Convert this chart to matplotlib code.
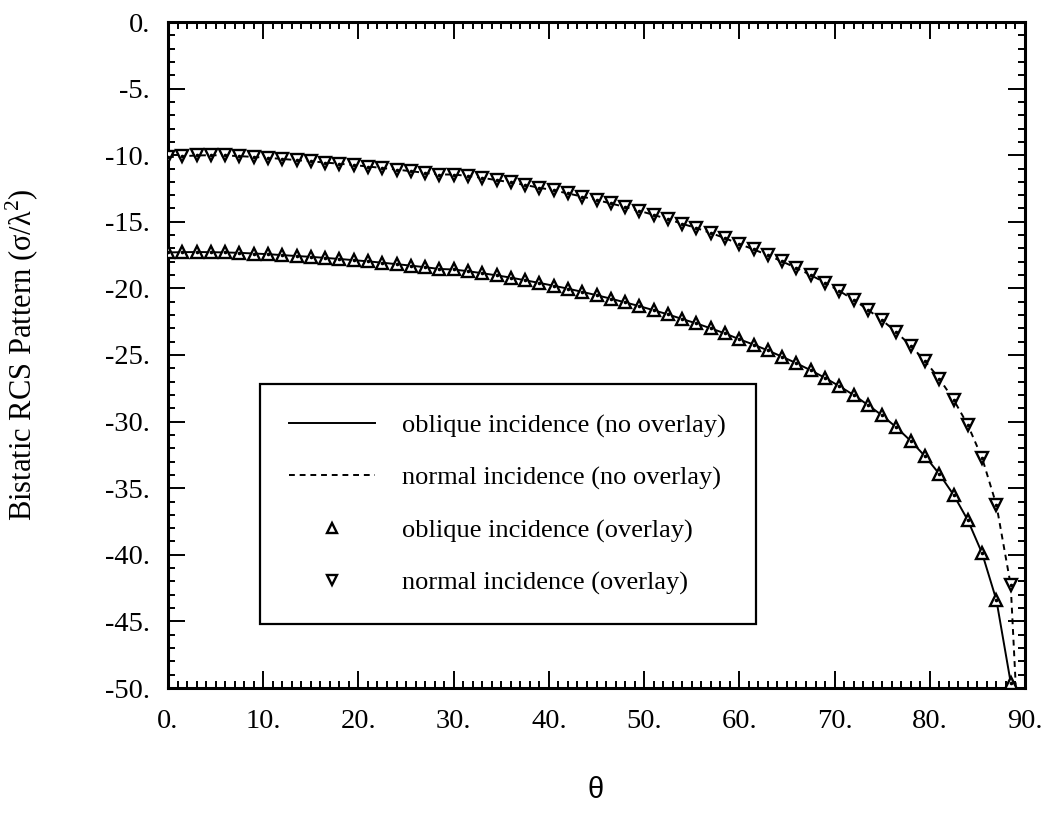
import numpy as np
import matplotlib
matplotlib.use("Agg")
import matplotlib.pyplot as plt
from matplotlib.ticker import MultipleLocator, FuncFormatter

# ---- data ----
theta = [0, 1.5, 3, 4.5, 6, 7.5, 9, 10.5, 12, 13.5, 15, 16.5, 18, 19.5, 21, 22.5,
         24, 25.5, 27, 28.5, 30, 31.5, 33, 34.5, 36, 37.5, 39, 40.5, 42, 43.5, 45,
         46.5, 48, 49.5, 51, 52.5, 54, 55.5, 57, 58.5, 60, 61.5, 63, 64.5, 66, 67.5,
         69, 70.5, 72, 73.5, 75, 76.5, 78, 79.5, 81, 82.5, 84, 85.5, 87, 88.5]

normal = [-10.15, -10.08, -10.02, -10.00, -10.02, -10.07, -10.13, -10.20, -10.28, -10.37,
          -10.46, -10.55, -10.64, -10.74, -10.85, -10.96, -11.08, -11.20, -11.33, -11.45,
          -11.45, -11.56, -11.70, -11.87, -12.04, -12.24, -12.44, -12.64, -12.87, -13.11,
          -13.36, -13.62, -13.89, -14.18, -14.48, -14.80, -15.15, -15.47, -15.84, -16.23,
          -16.67, -17.07, -17.51, -17.98, -18.47, -19.00, -19.57, -20.19, -20.85, -21.60,
          -22.39, -23.29, -24.30, -25.45, -26.78, -28.35, -30.26, -32.74, -36.26, -42.28]

oblique = [-17.30, -17.28, -17.27, -17.28, -17.30, -17.33, -17.38, -17.43, -17.50, -17.57,
           -17.63, -17.71, -17.79, -17.88, -17.97, -18.07, -18.18, -18.29, -18.41, -18.54,
           -18.58, -18.71, -18.86, -19.02, -19.19, -19.39, -19.59, -19.80, -20.02, -20.26,
           -20.51, -20.77, -21.05, -21.33, -21.64, -21.95, -22.30, -22.63, -23.00, -23.38,
           -23.82, -24.22, -24.66, -25.13, -25.62, -26.15, -26.72, -27.34, -28.00, -28.75,
           -29.54, -30.44, -31.45, -32.60, -33.93, -35.50, -37.41, -39.89, -43.41, -49.60]

# line continuation beyond the last marker (goes below the axis floor)
theta_tail = [89.6]
normal_tail = [-58.0]
oblique_tail = [-60.0]

x_ticks = [0, 10, 20, 30, 40, 50, 60, 70, 80, 90]
y_ticks = [0, -5, -10, -15, -20, -25, -30, -35, -40, -45, -50]

labels = ["oblique incidence (no overlay)", "normal incidence (no overlay)",
          "oblique incidence (overlay)", "normal incidence (overlay)"]

# ---- figure ----
serif = ["Liberation Serif", "DejaVu Serif"]
plt.rcParams["font.family"] = serif
plt.rcParams["mathtext.fontset"] = "custom"
plt.rcParams["mathtext.rm"] = "Liberation Serif"

fig = plt.figure(figsize=(10.48, 8.18), dpi=100)
ax = fig.add_axes([168/1048, 1 - 688/818, (1025-168)/1048, (688-22)/818])

th_line = theta + theta_tail
l1, = ax.plot(th_line, oblique + oblique_tail, color="black", lw=1.4, ls="-", zorder=2)
l2, = ax.plot(th_line, normal + normal_tail, color="black", lw=1.4, ls=(0, (3, 2.5)), zorder=2)

m1, = ax.plot(theta, oblique, ls="none", marker="^", ms=9, mfc="white", mec="black",
              mew=1.7, zorder=3)
m2, = ax.plot(theta, normal, ls="none", marker="v", ms=9, mfc="white", mec="black",
              mew=1.7, zorder=3)
ax.plot(theta, oblique, ls="none", marker="o", ms=1.6, color="black", zorder=4)
ax.plot(theta, normal, ls="none", marker="o", ms=1.6, color="black", zorder=4)

ax.set_xlim(0, 90)
ax.set_ylim(-50, 0)
ax.set_xticks(x_ticks)
ax.set_yticks(y_ticks)
ax.xaxis.set_minor_locator(MultipleLocator(1))
ax.yaxis.set_minor_locator(MultipleLocator(1))
fmt = FuncFormatter(lambda v, p: "%d." % round(v))
ax.xaxis.set_major_formatter(fmt)
ax.yaxis.set_major_formatter(fmt)

ax.tick_params(which="both", direction="in", top=True, right=True, width=1.4,
               labelsize=20.5, colors="black")
ax.tick_params(which="major", length=12)
ax.tick_params(axis="x", which="major", pad=15)
ax.tick_params(axis="y", which="major", pad=13)
ax.tick_params(which="minor", length=5)
for s in ax.spines.values():
    s.set_linewidth(2.2)

ax.set_ylabel("Bistatic RCS Pattern (σ/λ$^2$)", fontsize=22)
ax.yaxis.set_label_coords(-0.148, 0.5)
fig.text(596/1048, 1 - 790/818, "θ", fontsize=21, ha="center", va="center",
         family=["Liberation Sans", "DejaVu Sans"])

leg = ax.legend([l1, l2, m1, m2], labels, loc="upper left",
                bbox_to_anchor=(0.107, 0.456), fontsize=19, frameon=True,
                fancybox=False, edgecolor="black", framealpha=1, borderpad=1.12,
                labelspacing=1.08, handlelength=3.26, handletextpad=1.02,
                markerscale=0.75, borderaxespad=0)
leg.get_frame().set_linewidth(1.6)

fig.savefig("out.png", dpi=100)
